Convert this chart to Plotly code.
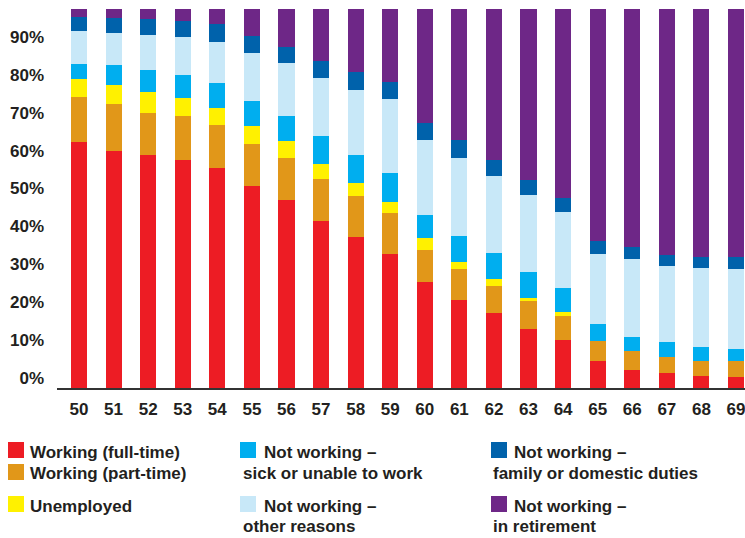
import plotly.graph_objects as go

ages = [str(a) for a in range(50, 70)]

full_time = [64.9, 62.5, 61.5, 60.2, 58.0, 53.3, 49.6, 44.1, 39.8, 35.4, 28.0, 23.2, 19.8, 15.6, 12.7, 7.1, 4.7, 4.0, 3.2, 2.9]
part_time = [11.9, 12.4, 11.1, 11.6, 11.3, 11.1, 11.1, 11.1, 10.8, 10.8, 8.4, 8.2, 7.1, 7.4, 6.3, 5.3, 5.0, 4.2, 4.0, 4.2]
unemployed = [4.7, 5.0, 5.5, 4.7, 4.7, 4.7, 4.5, 4.0, 3.4, 2.9, 3.2, 1.8, 1.8, 0.8, 1.1, 0.0, 0.0, 0.0, 0.0, 0.0]
sick = [4.0, 5.3, 5.8, 6.1, 6.6, 6.6, 6.6, 7.4, 7.4, 7.7, 6.1, 6.9, 6.9, 6.9, 6.3, 4.5, 3.7, 4.0, 3.7, 3.2]
other = [8.7, 8.4, 9.2, 10.0, 10.8, 12.7, 14.0, 15.3, 17.2, 19.5, 19.8, 20.6, 20.3, 20.1, 20.1, 18.5, 20.6, 20.1, 20.8, 21.1]
family = [3.7, 4.0, 4.2, 4.2, 4.6, 4.6, 4.2, 4.5, 4.7, 4.5, 4.5, 4.7, 4.2, 4.0, 3.7, 3.4, 3.2, 2.9, 2.9, 3.2]
retired = [2.1, 2.3, 2.6, 3.2, 3.9, 7.0, 10.0, 13.7, 16.6, 19.3, 30.1, 34.6, 39.8, 45.4, 49.9, 61.2, 62.8, 64.9, 65.4, 65.4]

series_names = ["Working (full-time)", "Working (part-time)", "Unemployed",
                "Not working – sick or unable to work", "Not working – other reasons",
                "Not working – family or domestic duties", "Not working – in retirement"]
series_values = [full_time, part_time, unemployed, sick, other, family, retired]
colors = ["#ED1C24", "#E19719", "#FFF100", "#00AEEF", "#C8E8F8", "#0062AB", "#6E2787"]

y_tickvals = [0, 10, 20, 30, 40, 50, 60, 70, 80, 90]
y_ticktext = ["0%", "10%", "20%", "30%", "40%", "50%", "60%", "70%", "80%", "90%"]

TEXT = "#231F20"
FONT = "Liberation Sans, Arial, sans-serif"

fig = go.Figure()
for name, vals, col in zip(series_names, series_values, colors):
    fig.add_trace(go.Bar(x=ages, y=vals, name=name, marker=dict(color=col, line=dict(width=0)),
                         showlegend=False))

W, H = 745, 538
L, R, T, B = 57, 0, 9, 150
pw, ph = W - L - R, H - T - B


def px(x):
    return (x - L) / pw


def py(y):
    return (H - B - y) / ph


# custom legend
legend_items = [
    (colors[0], 8, 442, [("Working (full-time)", 28, 452.7)]),
    (colors[1], 8, 464, [("Working (part-time)", 28, 473.3)]),
    (colors[2], 8, 496, [("Unemployed", 28, 506)]),
    (colors[3], 240, 442, [("Not working –", 261.5, 452.7), ("sick or unable to work", 240.5, 473.3)]),
    (colors[4], 240, 496, [("Not working –", 261.5, 506), ("other reasons", 240.5, 526.7)]),
    (colors[5], 491, 442, [("Not working –", 512, 452.7), ("family or domestic duties", 491, 473.3)]),
    (colors[6], 491, 496, [("Not working –", 512, 506), ("in retirement", 491, 526.7)]),
]
shapes = []
annotations = []
for col, sx, sy, texts in legend_items:
    shapes.append(dict(type="rect", xref="paper", yref="paper",
                       x0=px(sx), x1=px(sx + 16), y0=py(sy + 16), y1=py(sy),
                       fillcolor=col, line=dict(width=0)))
    for t, tx, ty in texts:
        annotations.append(dict(text=t, xref="paper", yref="paper", x=px(tx), y=py(ty),
                                xanchor="left", yanchor="middle", showarrow=False,
                                font=dict(family=FONT, size=17, color=TEXT, weight="bold")))

fig.update_layout(
    width=W, height=H,
    margin=dict(l=L, r=R, t=T, b=B, pad=0),
    paper_bgcolor="white", plot_bgcolor="white",
    barmode="stack", bargap=0.535,
    font=dict(family=FONT, size=17, color=TEXT),
    shapes=shapes, annotations=annotations,
    xaxis=dict(type="category", range=[-0.636, 19.26], showgrid=False, zeroline=False,
               showline=True, linecolor="#333333", linewidth=1.5, ticks="",
               tickfont=dict(family=FONT, size=17, color=TEXT, weight="bold"),
               ticklabelstandoff=5, fixedrange=True),
    yaxis=dict(range=[0, 100], showgrid=False, zeroline=False, showline=False, ticks="",
               tickvals=y_tickvals, ticktext=y_ticktext,
               tickfont=dict(family=FONT, size=17, color=TEXT, weight="bold"),
               ticklabelstandoff=12, ticklabelshift=-10, fixedrange=True),
)

fig.write_html("out.html", config={"displayModeBar": False})
